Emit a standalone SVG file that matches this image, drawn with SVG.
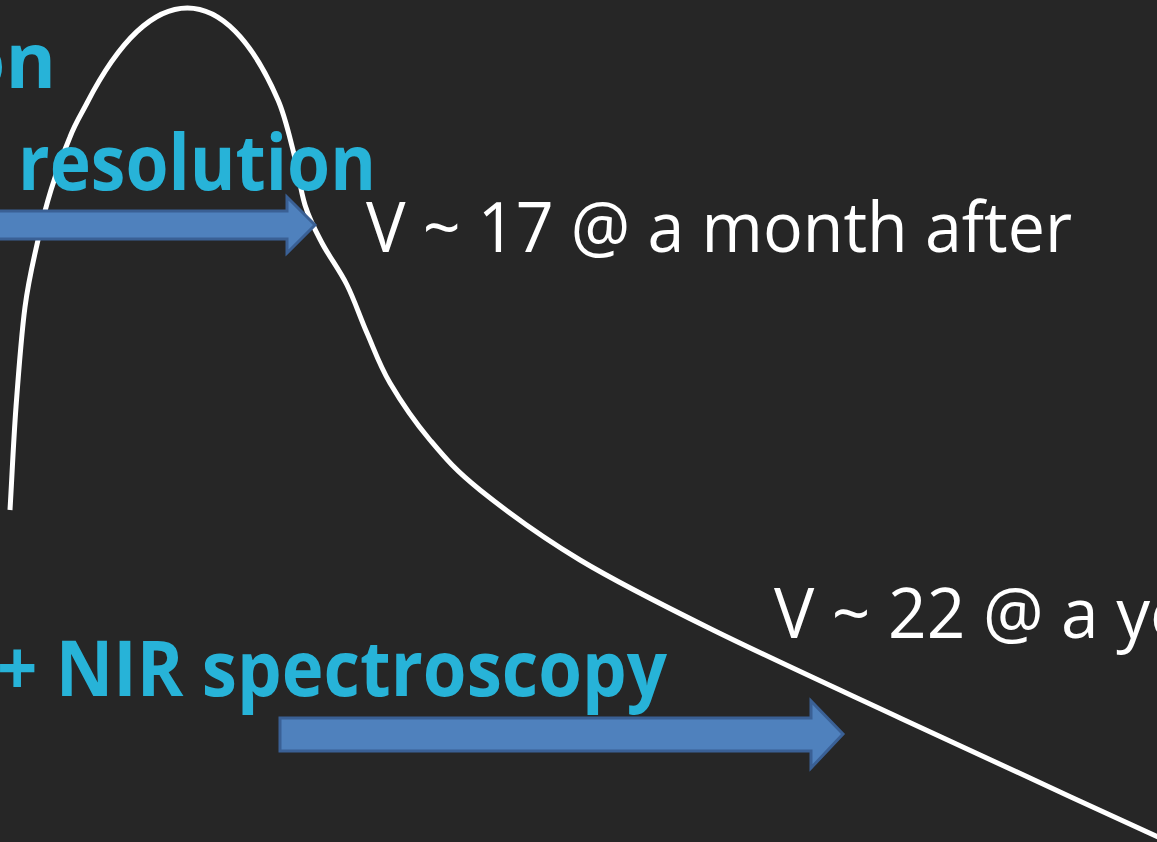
<svg xmlns="http://www.w3.org/2000/svg" width="1157" height="842" viewBox="0 0 1157 842">
  <style>
    .cyan { font-family: "Open Sans", "Liberation Sans", sans-serif; font-weight: bold; font-size: 77px; fill: #27B3D8; }
    .white { font-family: "Open Sans", "Liberation Sans", sans-serif; font-size: 69px; fill: #FFFFFF; }
    .arrow { fill: #4F81BD; stroke: #3A6095; stroke-width: 3; stroke-linejoin: miter; }
    .curve { fill: none; stroke: #FFFFFF; stroke-width: 5; stroke-linecap: butt; }
  </style>
  <rect x="0" y="0" width="1157" height="842" fill="#262626"/>

  <g id="light-curve">
    <path class="curve" d="M10,510 C12,476 13.5,440.8 16,407 C18.5,373.17 21.33,334.83 25,307 C28.67,279.17 33.67,259.5 38,240 C42.33,220.5 45.67,207.17 51,190 C56.33,172.83 64,151.5 70,137 C75.5,122.5 81,114.6 87,103 C153,-24.9 225.2,-21.4 278,100 C284.67,115.3 288.5,132.5 293,150 C297.5,167.5 300.17,189.5 305,205 C309.83,220.5 315,229.67 322,243 C329,256.33 339.5,270 347,285 C354.5,300 359.83,316.67 367,333 C374.17,349.33 379.5,365.17 390,383 C400.5,400.83 415,422.17 430,440 C445,457.83 455,470 480,490 C505,510 541.17,536.67 580,560 C618.83,583.33 659.67,603.67 713,630 C766.33,656.33 825.5,683.33 900,718 C974.5,752.67 1073.3,798 1160,838"/>
  </g>

  <g id="label-on">
    <text class="cyan" x="56" y="88" text-anchor="end">on</text>
  </g>
  <g id="label-resolution">
    <text class="cyan" x="18" y="190" textLength="358" lengthAdjust="spacingAndGlyphs">resolution</text>
  </g>
  <g id="label-nir">
    <text class="cyan" x="-3" y="696" textLength="670" lengthAdjust="spacingAndGlyphs">+ NIR spectroscopy</text>
  </g>
  <g id="label-v17">
    <text class="white" x="366" y="252" textLength="706" lengthAdjust="spacingAndGlyphs">V ~ 17 @ a month after</text>
  </g>
  <g id="label-v22">
    <text class="white" x="774" y="638" textLength="414" lengthAdjust="spacingAndGlyphs">V ~ 22 @ a ye</text>
  </g>

  <g id="connectors">
    <polygon class="arrow" points="-10,211 287,211 287,197 315,225 287,253 287,239 -10,239"/>
    <polygon class="arrow" points="280,718 811,718 811,701 843,734 811,768 811,751 280,751"/>
  </g>
</svg>
